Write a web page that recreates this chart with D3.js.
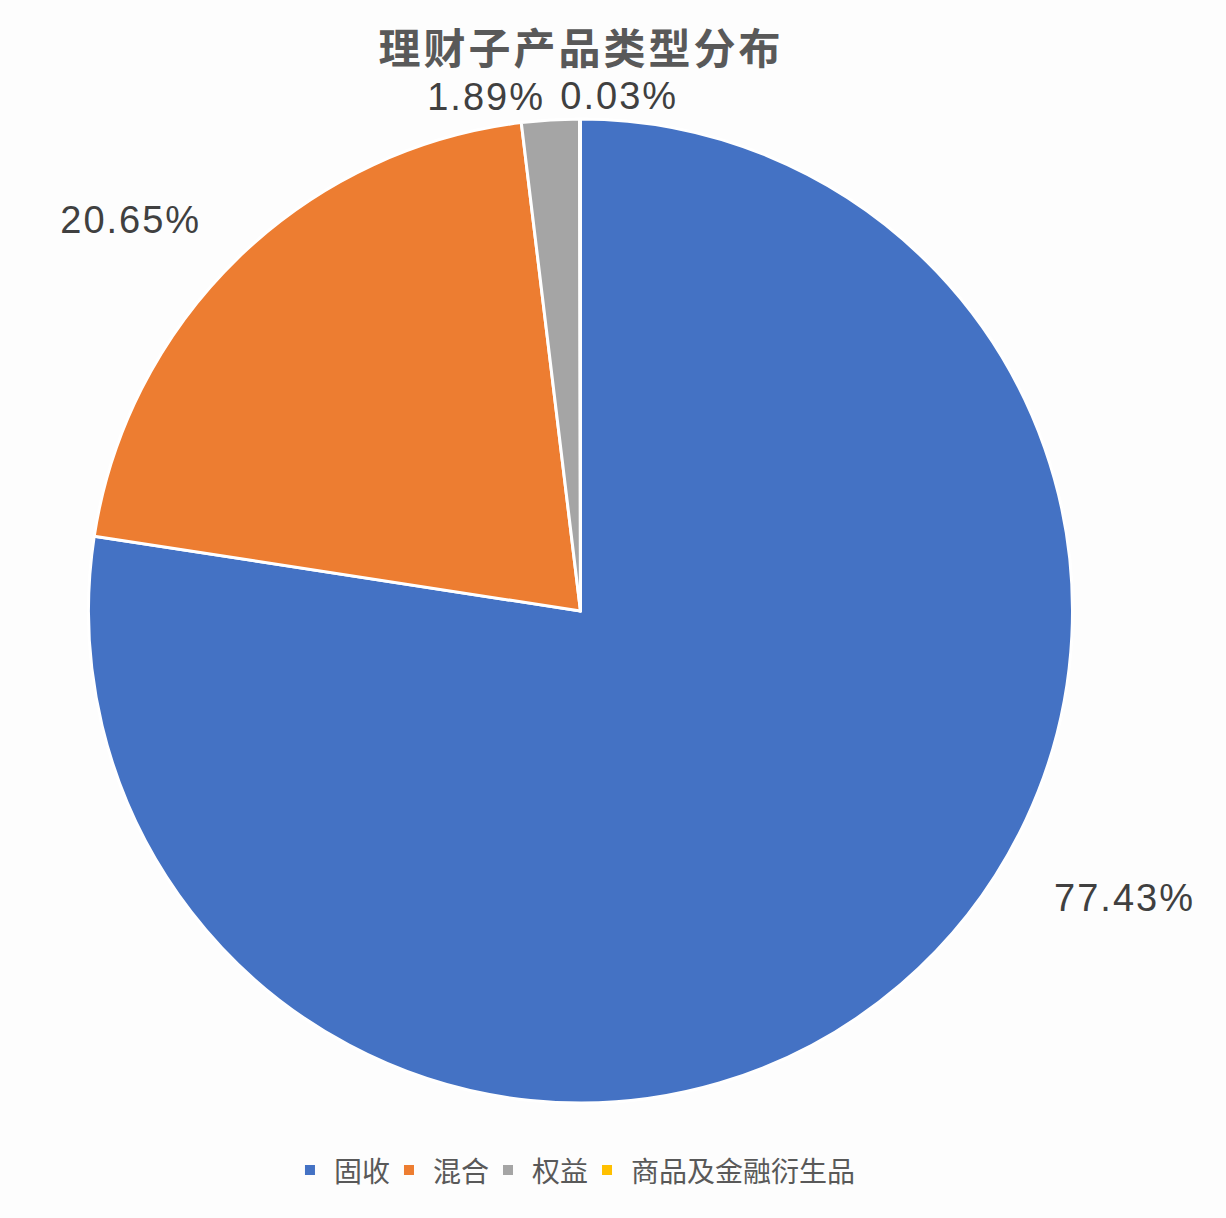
<!DOCTYPE html>
<html>
<head>
<meta charset="utf-8">
<script src="https://cdn.jsdelivr.net/npm/d3@7"></script>
<style>
  body { margin: 0; background: #fdfdfd; }
  svg { display: block; }
</style>
</head>
<body>
<div class="chart"></div>
<script>
// DATA ------------------------------
const categories = ["固收", "混合", "权益", "商品及金融衍生品"];
const shares = [77.43, 20.65, 1.89, 0.03];
const colors = ["#4472C4", "#ED7D31", "#A5A5A5", "#FFC000"];
const title = "理财子产品类型分布";

// label anchor (angle in degrees from top, distance from centre) - Excel best-fit spots
const labelSpots = [[117.8, 615], [311, 596], [349.6, 523], [4.3, 516]];

// CHART INIT ------------------------------
const width = 1226, height = 1218;
const cx = 580.5, cy = 611, radius = 492;

const svg = d3.select(".chart").append("svg")
    .attr("width", width)
    .attr("height", height);

svg.append("rect")
    .attr("width", width)
    .attr("height", height)
    .attr("fill", "#fdfdfd");

svg.append("text")
    .attr("x", 581)
    .attr("y", 45)
    .attr("text-anchor", "middle")
    .attr("dominant-baseline", "central")
    .attr("font-family", "'Noto Sans CJK SC', sans-serif")
    .attr("font-weight", "bold")
    .attr("font-size", 42)
    .attr("letter-spacing", 3)
    .attr("fill", "#595959")
    .text(title);

const data = categories.map((c, i) => ({name: c, value: shares[i], color: colors[i]}));

const pie = d3.pie()
    .sort(null)
    .value(d => d.value);

const arc = d3.arc()
    .innerRadius(0)
    .outerRadius(radius);

const g = svg.append("g")
    .attr("transform", `translate(${cx},${cy})`);

g.selectAll("path")
    .data(pie(data))
    .enter()
    .append("path")
    .attr("d", arc)
    .attr("fill", d => d.data.color)
    .attr("stroke", "#ffffff")
    .attr("stroke-width", 3)
    .attr("stroke-linejoin", "round");

// percentage labels
g.selectAll("text.pct")
    .data(data)
    .enter()
    .append("text")
    .attr("class", "pct")
    .attr("x", (d, i) => Math.sin(labelSpots[i][0] * Math.PI / 180) * labelSpots[i][1])
    .attr("y", (d, i) => -Math.cos(labelSpots[i][0] * Math.PI / 180) * labelSpots[i][1])
    .attr("text-anchor", "middle")
    .attr("dominant-baseline", "central")
    .attr("font-family", "'Liberation Sans', Arial, sans-serif")
    .attr("font-size", 38)
    .attr("letter-spacing", 2)
    .attr("fill", "#404040")
    .text(d => d.value.toFixed(2) + "%");

// legend
const legend = svg.append("g");
let lx = 0;
data.forEach((d, i) => {
    const item = legend.append("g").attr("transform", `translate(${lx},0)`);
    item.append("rect")
        .attr("x", 0)
        .attr("y", -5)
        .attr("width", 10)
        .attr("height", 10)
        .attr("fill", d.color);
    const t = item.append("text")
        .attr("x", 29)
        .attr("y", 0)
        .attr("dominant-baseline", "central")
        .attr("font-family", "'Noto Sans CJK SC', sans-serif")
        .attr("font-size", 28)
        .attr("fill", "#595959")
        .text(d.name);
    lx += 29 + t.node().getComputedTextLength() + 14;
});
const legendW = lx - 14;
legend.attr("transform", `translate(${580 - legendW / 2},1170)`);
</script>
</body>
</html>
